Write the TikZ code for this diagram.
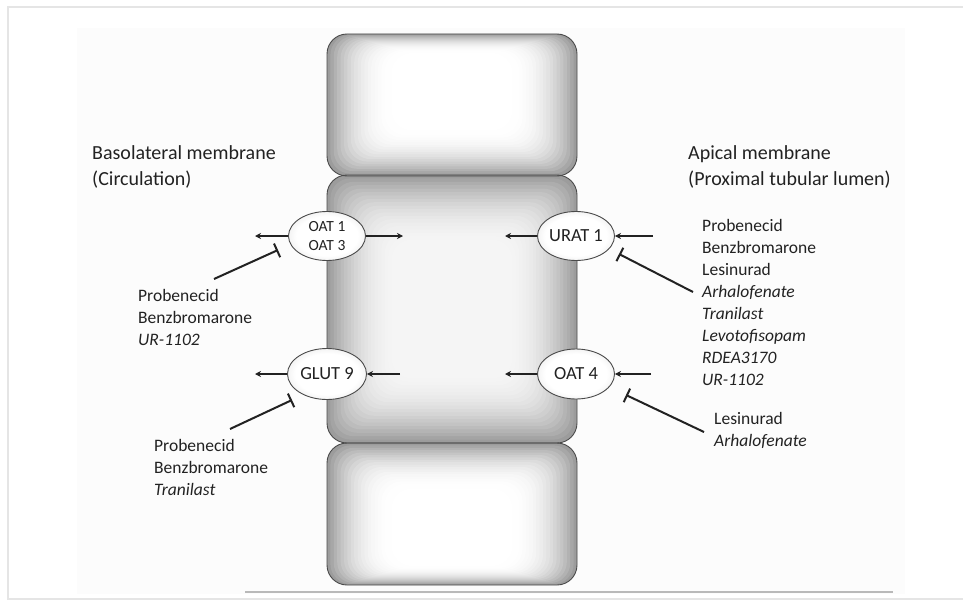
\documentclass[tikz,border=0pt]{standalone}
\usepackage{fontspec}
\setmainfont{Carlito}
\usetikzlibrary{arrows.meta,shapes.geometric}
\definecolor{ink}{HTML}{222222}
\definecolor{rim}{HTML}{4a4a4a}
\pgfdeclareradialshading{ellshade}{\pgfpoint{0bp}{0bp}}{color(0bp)=(white); color(20bp)=(white); color(40bp)=(gray!35); color(50bp)=(gray!65)}
\begin{document}
\begin{tikzpicture}[x=1pt,y=-1pt,
  txt/.style={font=\fontsize{20}{26}\selectfont, text=ink, inner sep=0pt, anchor=base west, align=left},
  drug/.style={font=\fontsize{17.5}{22}\selectfont, text=ink, inner sep=0pt, anchor=base west, align=left},
  transporter/.style={ellipse, draw=rim, line width=0.9pt, shade, shading=ellshade, minimum width=77pt, minimum height=49pt, inner sep=0pt, text=ink, font=\fontsize{18.5}{20}\selectfont},
  flow/.style={draw=ink, line width=1.8pt, -{Stealth[length=6pt,width=6pt]}},
  inhib/.style={draw=ink, line width=2pt, -{Bar[width=15pt,line width=2pt]}},
  cellbox/.style={draw=rim, line width=0.9pt, rounded corners=20pt, minimum width=250pt, inner sep=0pt}]
\useasboundingbox (0,0) rectangle (963,607);
\fill[white] (0,0) rectangle (963,607);
\fill[gray!2] (77,28) rectangle (905,594);
\draw[gray!20, line width=2pt] (970,7) -- (8,7) -- (8,599) -- (970,599);
\draw[gray!55, line width=1.5pt] (245,592) -- (893,592);
% cell shading (soft inner glow built from nested rounded rectangles)
\foreach \i in {0,...,20}{
  \pgfmathsetmacro{\c}{78*(1-\i/20)^2.4}
  \fill[gray!\c, rounded corners=20pt] (327+\i*3.4, 34+\i*1.0) rectangle (577-\i*3.4, 176-\i*2.4);
}
\foreach \i in {0,...,20}{
  \pgfmathsetmacro{\c}{78*(1-\i/20)^2.4}
  \fill[gray!\c, rounded corners=20pt] (327+\i*3.4, 443+\i*2.4) rectangle (577-\i*3.4, 585-\i*1.0);
}
\foreach \i in {0,...,20}{
  \pgfmathsetmacro{\c}{8+70*(1-\i/20)^2}
  \fill[gray!\c, rounded corners=20pt] (327+\i*3.4, 175+\i*3.4) rectangle (577-\i*3.4, 443-\i*3.4);
}
% cells
\node[cellbox, minimum height=142pt] (topcell) at (452,105) {};
\node[cellbox, minimum height=142pt] (botcell) at (452,514) {};
\node[cellbox, minimum height=268pt] (midcell) at (452,309) {};
% transporters
\node[transporter, font=\fontsize{15.5}{19}\selectfont, align=center] (oat13) at (327,236) {OAT 1\\OAT 3};
\node[transporter] (urat) at (576,236) {URAT 1};
\node[transporter, minimum width=79pt, minimum height=51pt] (glut) at (327,374) {GLUT 9};
\node[transporter, minimum height=50pt] (oat4) at (576,374) {OAT 4};
% free ends
\coordinate (o13L) at (255,236);
\coordinate (o13R) at (403,236);
\coordinate (uL) at (505,236);
\coordinate (uR) at (653,236);
\coordinate (gL) at (255,374);
\coordinate (gR) at (400,374);
\coordinate (o4L) at (505,374);
\coordinate (o4R) at (651,374);
\draw[flow] (oat13) -- (o13L);
\draw[flow] (oat13) -- (o13R);
\draw[flow] (urat) -- (uL);
\draw[flow] (uR) -- (urat);
\draw[flow] (glut) -- (gL);
\draw[flow] (gR) -- (glut);
\draw[flow] (oat4) -- (o4L);
\draw[flow] (o4R) -- (oat4);
% inhibitors
\coordinate (i1s) at (214,279); \coordinate (i1e) at (278,250);
\coordinate (i2s) at (693,292); \coordinate (i2e) at (619,254);
\coordinate (i3s) at (230,429); \coordinate (i3e) at (292,400);
\coordinate (i4s) at (704,432); \coordinate (i4e) at (626,395);
\draw[inhib] (i1s) -- (i1e);
\draw[inhib] (i2s) -- (i2e);
\draw[inhib] (i3s) -- (i3e);
\draw[inhib] (i4s) -- (i4e);
% texts (base anchor = baseline of the last line)
\node[txt] (baso) at (92,185) {Basolateral membrane\\(Circulation)};
\node[txt] (apic) at (688,185) {Apical membrane\\(Proximal tubular lumen)};
\node[drug] (d1) at (138,345) {Probenecid\\Benzbromarone\\\textit{UR-1102}};
\node[drug] (d2) at (154,495) {Probenecid\\Benzbromarone\\\textit{Tranilast}};
\node[drug] (d3) at (702,385) {Probenecid\\Benzbromarone\\Lesinurad\\\textit{Arhalofenate}\\\textit{Tranilast}\\\textit{Levotofisopam}\\\textit{RDEA3170}\\\textit{UR-1102}};
\node[drug] (d4) at (714,446) {Lesinurad\\\textit{Arhalofenate}};
\end{tikzpicture}
\end{document}
